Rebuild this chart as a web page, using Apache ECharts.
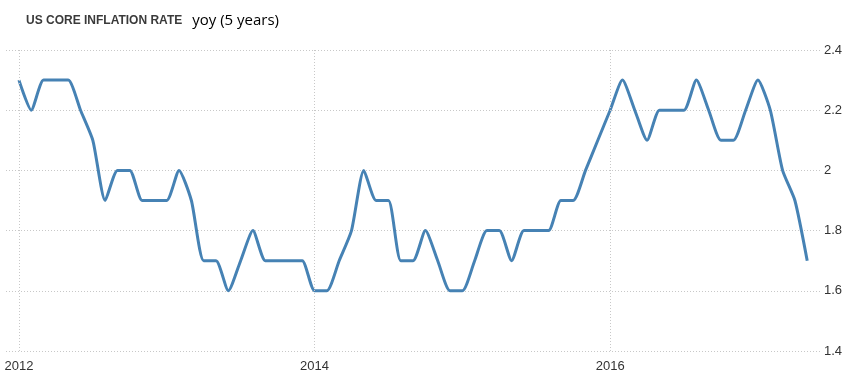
<!DOCTYPE html>
<html>
<head>
<meta charset="utf-8">
<script src="https://cdn.jsdelivr.net/npm/echarts@6/dist/echarts.min.js"></script>
<style>
html,body{margin:0;padding:0;background:#fff;}
#chart{width:862px;height:389px;}
</style>
</head>
<body>
<div id="chart"></div>
<script>
// Monthly data, Jan 2012 .. May 2017
const months = [
  '2012-01','2012-02','2012-03','2012-04','2012-05','2012-06','2012-07','2012-08','2012-09','2012-10','2012-11','2012-12',
  '2013-01','2013-02','2013-03','2013-04','2013-05','2013-06','2013-07','2013-08','2013-09','2013-10','2013-11','2013-12',
  '2014-01','2014-02','2014-03','2014-04','2014-05','2014-06','2014-07','2014-08','2014-09','2014-10','2014-11','2014-12',
  '2015-01','2015-02','2015-03','2015-04','2015-05','2015-06','2015-07','2015-08','2015-09','2015-10','2015-11','2015-12',
  '2016-01','2016-02','2016-03','2016-04','2016-05','2016-06','2016-07','2016-08','2016-09','2016-10','2016-11','2016-12',
  '2017-01','2017-02','2017-03','2017-04','2017-05'
];
const coreInflation = [
  2.3,2.2,2.3,2.3,2.3,2.2,2.1,1.9,2.0,2.0,1.9,1.9,
  1.9,2.0,1.9,1.7,1.7,1.6,1.7,1.8,1.7,1.7,1.7,1.7,
  1.6,1.6,1.7,1.8,2.0,1.9,1.9,1.7,1.7,1.8,1.7,1.6,
  1.6,1.7,1.8,1.8,1.7,1.8,1.8,1.8,1.9,1.9,2.0,2.1,
  2.2,2.3,2.2,2.1,2.2,2.2,2.2,2.3,2.2,2.1,2.1,2.2,
  2.3,2.2,2.0,1.9,1.7
];
const xTickLabels = ['2012','2014','2016'];
const yTicks = [1.4,1.6,1.8,2.0,2.2,2.4];

const xTickIdx = xTickLabels.map(y => months.indexOf(y + '-01'));
const seriesData = coreInflation.map((v, i) => [i, v]);

const axisFont = 'Liberation Sans, Arial, sans-serif';

const chart = echarts.init(document.getElementById('chart'), null, {renderer: 'canvas'});
chart.setOption({
  animation: false,
  title: {
    left: 21, top: 8,
    text: '{a|US CORE INFLATION RATE}{b|yoy (5 years)}',
    textStyle: {
      rich: {
        a: {fontFamily: axisFont, fontSize: 12, color: '#3a3a3a', fontWeight: 'bold'},
        b: {fontFamily: 'Open Sans, sans-serif', fontSize: 15, color: '#000', fontWeight: 'normal', padding: [0, 0, 0, 10]}
      }
    }
  },
  grid: {left: 6, right: 40, top: 50, bottom: 38},
  xAxis: {
    type: 'value',
    min: -1.05,
    max: 65.2,
    splitLine: {show: false},
    axisLine: {show: false},
    axisTick: {show: false},
    axisLabel: {
      customValues: xTickIdx,
      formatter: v => xTickLabels[xTickIdx.indexOf(Math.round(v))] || '',
      fontFamily: axisFont,
      fontSize: 13, color: '#333', margin: 9
    }
  },
  yAxis: {
    type: 'value',
    position: 'right',
    min: 1.4, max: 2.4, interval: 0.2,
    axisLine: {show: false},
    axisTick: {show: false},
    splitLine: {show: true, lineStyle: {type: [1, 2], color: '#c8c8c8', width: 1}},
    axisLabel: {
      formatter: v => String(Math.round(v * 10) / 10),
      fontFamily: axisFont,
      fontSize: 13, color: '#333', margin: 2
    }
  },
  series: [{
    type: 'line',
    data: seriesData,
    smooth: 0.2,
    symbol: 'none',
    lineStyle: {color: '#4682b4', width: 3},
    markLine: {
      silent: true,
      symbol: 'none',
      label: {show: false},
      lineStyle: {type: [1, 2], color: '#c8c8c8', width: 1},
      data: xTickIdx.map(i => ({xAxis: i}))
    }
  }]
});
</script>
</body>
</html>
